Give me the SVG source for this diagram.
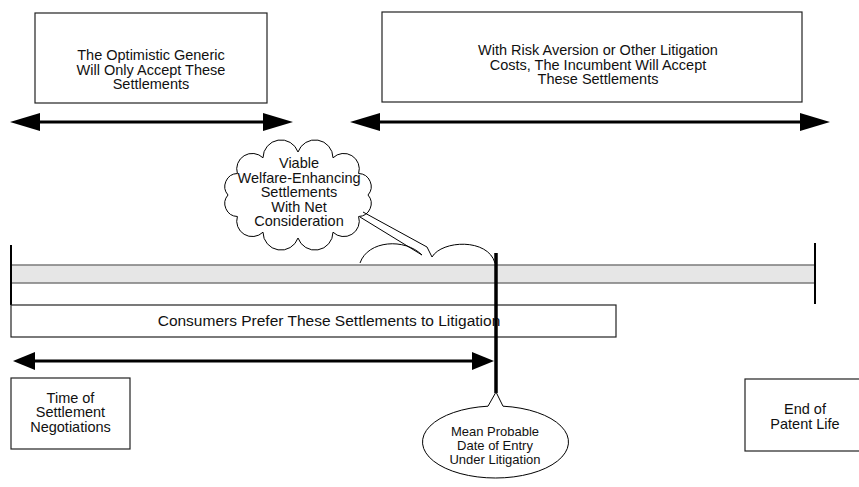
<svg xmlns="http://www.w3.org/2000/svg" width="859" height="487" viewBox="0 0 859 487">
  <style>
    .box { fill: #ffffff; stroke: #222222; stroke-width: 1.2; }
    .lbl { font-family: "Liberation Sans", Arial, sans-serif; fill: #111111; text-anchor: middle; }
    .big { font-size: 15.5px; }
    .mid { font-size: 14.5px; }
    .sm { font-size: 13px; }
    .arrow { stroke: #000000; stroke-width: 3; fill: none; }
    .thin { stroke: #000000; stroke-width: 1; fill: none; }
    .tick { stroke: #000000; stroke-width: 2; }
  </style>
  <defs>
    <marker id="head-lg" markerUnits="userSpaceOnUse" markerWidth="30" markerHeight="18" refX="10" refY="9" orient="auto-start-reverse">
      <path d="M0,0 L30,9 L0,18 Z" fill="#000000"/>
    </marker>
    <marker id="head-sm" markerUnits="userSpaceOnUse" markerWidth="22" markerHeight="18" refX="8" refY="9" orient="auto-start-reverse">
      <path d="M0,0 L22,9 L0,18 Z" fill="#000000"/>
    </marker>
  </defs>

  <rect width="859" height="487" fill="#ffffff"/>

  <!-- top range boxes -->
  <g id="optimistic-generic">
    <rect class="box" x="35" y="13" width="232" height="90"/>
    <text class="lbl mid" x="151" y="60">The Optimistic Generic</text>
    <text class="lbl mid" x="151" y="74.5">Will Only Accept These</text>
    <text class="lbl mid" x="151" y="89">Settlements</text>
  </g>

  <g id="incumbent-accepts">
    <rect class="box" x="382" y="12" width="420" height="90"/>
    <text class="lbl mid" x="598" y="55">With Risk Aversion or Other Litigation</text>
    <text class="lbl mid" x="598" y="69.5">Costs, The Incumbent Will Accept</text>
    <text class="lbl mid" x="598" y="84">These Settlements</text>
  </g>

  <!-- timeline bar -->
  <g id="timeline">
    <rect x="11" y="265" width="804" height="18" fill="#e6e6e6"/>
    <line x1="11" y1="265" x2="815" y2="265" stroke="#7a7a7a" stroke-width="1.6"/>
    <line x1="11" y1="283" x2="815" y2="283" stroke="#7a7a7a" stroke-width="1.6"/>
    <line class="tick" x1="11" y1="245" x2="11" y2="305"/>
    <line class="tick" x1="815" y1="243" x2="815" y2="304"/>
  </g>

  <g id="consumers-prefer">
    <rect class="box" x="11" y="305" width="605" height="32"/>
    <text class="lbl big" x="329" y="326">Consumers Prefer These Settlements to Litigation</text>
  </g>

  <!-- cloud label -->
  <g id="viable-settlements">
    <path fill="#ffffff" stroke="#000000" stroke-width="1"
      d="M368,195 A13,13 0 0 1 358.6,216.5 A15.5,15.5 0 0 1 333,232.2 A18,18 0 0 1 298,238 A18,18 0 0 1 263,232.2 A15.5,15.5 0 0 1 237.4,216.5 A13,13 0 0 1 228,195 A13,13 0 0 1 237.4,173.5 A15.5,15.5 0 0 1 263,157.8 A18,18 0 0 1 298,152 A18,18 0 0 1 333,157.8 A15.5,15.5 0 0 1 358.6,173.5 A13,13 0 0 1 368,195 Z"/>
    <text class="lbl mid" x="299" y="168">Viable</text>
    <text class="lbl mid" x="299" y="182.5">Welfare-Enhancing</text>
    <text class="lbl mid" x="299" y="197">Settlements</text>
    <text class="lbl mid" x="299" y="211.5">With Net</text>
    <text class="lbl mid" x="299" y="226">Consideration</text>
  </g>

  <!-- bottom markers -->
  <g id="settlement-time">
    <rect class="box" x="11" y="378" width="119" height="71"/>
    <text class="lbl mid" x="70.5" y="402.5">Time of</text>
    <text class="lbl mid" x="70.5" y="417">Settlement</text>
    <text class="lbl mid" x="70.5" y="431.5">Negotiations</text>
  </g>

  <g id="patent-end">
    <rect class="box" x="745" y="379" width="119" height="72"/>
    <text class="lbl mid" x="805" y="414">End of</text>
    <text class="lbl mid" x="805" y="429">Patent Life</text>
  </g>

  <g id="mean-entry-date">
    <line x1="496" y1="253" x2="496" y2="393" stroke="#000000" stroke-width="3.5"/>
    <path fill="#ffffff" stroke="#000000" stroke-width="1"
      d="M488,406.2 L496,392 L503,406.2 A73,36 0 1 1 488,406.2 Z"/>
    <text class="lbl sm" x="495" y="435.5">Mean Probable</text>
    <text class="lbl sm" x="495" y="449.5">Date of Entry</text>
    <text class="lbl sm" x="495" y="463.5">Under Litigation</text>
  </g>

  <!-- connectors: range arrows and the bracket tying the cloud to the bar -->
  <g id="connectors">
    <line class="arrow" x1="30" y1="122" x2="273" y2="122" marker-start="url(#head-lg)" marker-end="url(#head-lg)"/>
    <line class="arrow" x1="370" y1="122" x2="810" y2="122" marker-start="url(#head-lg)" marker-end="url(#head-lg)"/>
    <line class="arrow" x1="27" y1="361" x2="480" y2="361" marker-start="url(#head-sm)" marker-end="url(#head-sm)"/>
    <path class="thin" d="M360,217 L422,255 C405,238 368,240 360,263"/>
    <path class="thin" d="M363,212 L427,247 L432,257 C442,240 488,238 495,263"/>
  </g>
</svg>
